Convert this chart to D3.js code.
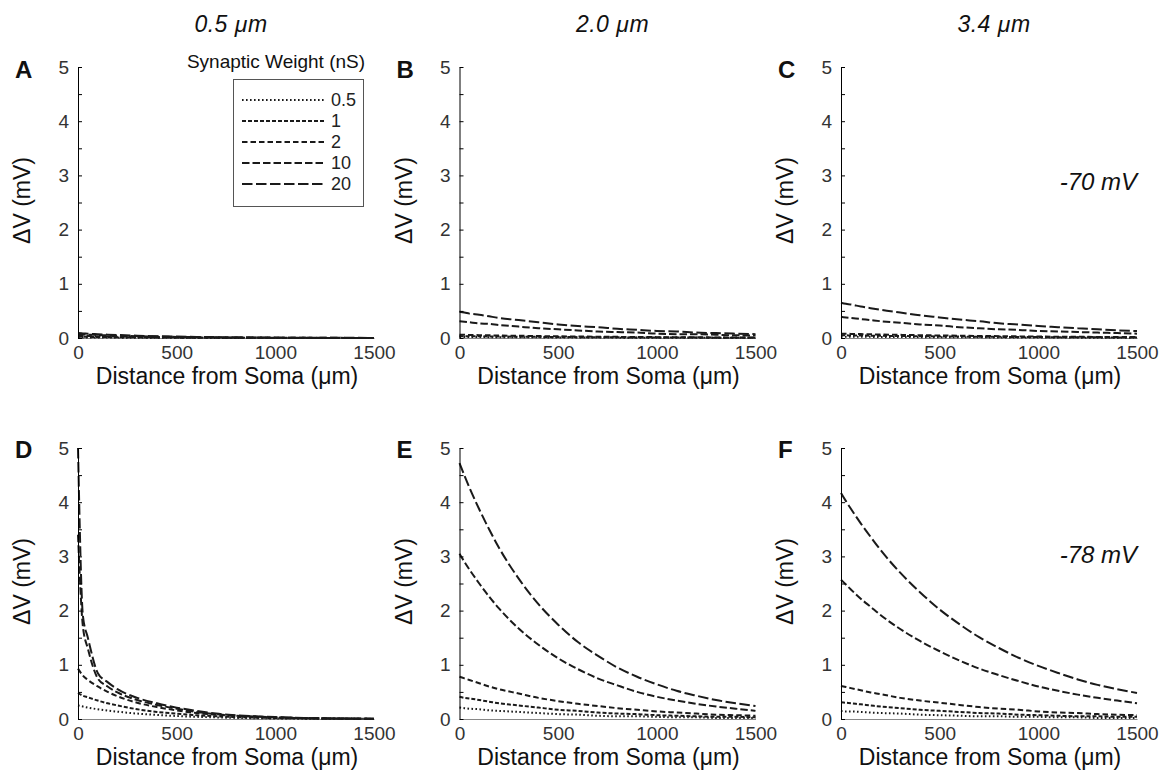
<!DOCTYPE html>
<html>
<head>
<meta charset="utf-8">
<script src="https://cdn.jsdelivr.net/npm/d3@7"></script>
<style>
  body { margin: 0; background: #fff; }
  svg { display: block; font-family: "Liberation Sans", Arial, sans-serif; }
</style>
</head>
<body>
<svg id="chart" width="1162" height="773"></svg>
<script>
// distance from soma (um) at which each trace is sampled
var distances = [0, 25, 50, 100, 150, 200, 300, 400, 500, 600, 700, 800, 900, 1000, 1100, 1200, 1300, 1400, 1500];
var weights = ["0.5", "1", "2", "10", "20"];
var yTicks = [0, 1, 2, 3, 4, 5];
var xTicks = [0, 500, 1000, 1500];
var diameters = ["0.5 \u03bcm", "2.0 \u03bcm", "3.4 \u03bcm"];
var holding = ["-70 mV", "-78 mV"];
var letters = ["A", "B", "C", "D", "E", "F"];

// each panel: one row per weight (0.5, 1, 2, 10, 20 nS), dV in mV
var panelA = [
  [0.012, 0.011, 0.011, 0.009, 0.008, 0.007, 0.006, 0.004, 0.003, 0.003, 0.002, 0.002, 0.001, 0.001, 0.001, 0.001, 0, 0, 0],
  [0.025, 0.023, 0.022, 0.019, 0.017, 0.015, 0.012, 0.009, 0.007, 0.006, 0.004, 0.003, 0.003, 0.002, 0.002, 0.001, 0.001, 0.001, 0.001],
  [0.04, 0.038, 0.035, 0.031, 0.027, 0.024, 0.019, 0.015, 0.011, 0.009, 0.007, 0.005, 0.004, 0.003, 0.003, 0.002, 0.002, 0.001, 0.001],
  [0.07, 0.066, 0.062, 0.055, 0.048, 0.042, 0.033, 0.026, 0.02, 0.016, 0.012, 0.009, 0.007, 0.006, 0.004, 0.004, 0.003, 0.002, 0.002],
  [0.09, 0.085, 0.079, 0.07, 0.062, 0.055, 0.042, 0.033, 0.026, 0.02, 0.016, 0.012, 0.009, 0.007, 0.006, 0.005, 0.004, 0.003, 0.002]
];
var panelB = [
  [0.02, 0.019, 0.019, 0.018, 0.016, 0.015, 0.014, 0.012, 0.01, 0.009, 0.008, 0.007, 0.006, 0.005, 0.005, 0.004, 0.004, 0.003, 0.003],
  [0.035, 0.034, 0.033, 0.031, 0.029, 0.027, 0.024, 0.021, 0.018, 0.016, 0.014, 0.012, 0.011, 0.01, 0.008, 0.007, 0.006, 0.006, 0.005],
  [0.06, 0.058, 0.056, 0.053, 0.05, 0.046, 0.041, 0.036, 0.031, 0.028, 0.024, 0.021, 0.019, 0.016, 0.014, 0.013, 0.011, 0.01, 0.009],
  [0.31, 0.30, 0.29, 0.27, 0.26, 0.24, 0.21, 0.18, 0.16, 0.14, 0.12, 0.11, 0.10, 0.08, 0.07, 0.07, 0.06, 0.05, 0.045],
  [0.485, 0.47, 0.45, 0.43, 0.40, 0.37, 0.33, 0.29, 0.25, 0.22, 0.20, 0.17, 0.15, 0.13, 0.12, 0.10, 0.09, 0.08, 0.07]
];
var panelC = [
  [0.025, 0.024, 0.024, 0.022, 0.021, 0.02, 0.018, 0.016, 0.015, 0.013, 0.012, 0.011, 0.01, 0.009, 0.008, 0.007, 0.006, 0.006, 0.005],
  [0.05, 0.049, 0.047, 0.045, 0.043, 0.04, 0.036, 0.033, 0.029, 0.026, 0.024, 0.021, 0.019, 0.017, 0.015, 0.014, 0.012, 0.011, 0.01],
  [0.08, 0.078, 0.076, 0.072, 0.068, 0.064, 0.058, 0.052, 0.047, 0.042, 0.038, 0.034, 0.03, 0.027, 0.024, 0.022, 0.02, 0.018, 0.016],
  [0.39, 0.38, 0.37, 0.35, 0.33, 0.31, 0.28, 0.25, 0.23, 0.20, 0.18, 0.16, 0.15, 0.13, 0.12, 0.11, 0.10, 0.09, 0.08],
  [0.65, 0.63, 0.62, 0.58, 0.55, 0.52, 0.47, 0.42, 0.38, 0.34, 0.31, 0.27, 0.25, 0.22, 0.20, 0.18, 0.16, 0.14, 0.13]
];
var panelD = [
  [0.25, 0.23, 0.21, 0.18, 0.155, 0.135, 0.1, 0.075, 0.055, 0.04, 0.03, 0.02, 0.015, 0.01, 0.007, 0.005, 0.004, 0.003, 0.002],
  [0.48, 0.43, 0.4, 0.34, 0.29, 0.25, 0.18, 0.13, 0.1, 0.07, 0.05, 0.035, 0.025, 0.018, 0.013, 0.01, 0.007, 0.005, 0.003],
  [0.93, 0.8, 0.72, 0.6, 0.5, 0.42, 0.3, 0.22, 0.16, 0.11, 0.08, 0.06, 0.04, 0.03, 0.02, 0.015, 0.01, 0.007, 0.005],
  [3.4, 1.7, 1.3, 0.75, 0.6, 0.49, 0.35, 0.26, 0.19, 0.13, 0.09, 0.06, 0.045, 0.03, 0.02, 0.013, 0.009, 0.006, 0.004],
  [5.0, 1.9, 1.5, 0.85, 0.68, 0.55, 0.39, 0.29, 0.21, 0.15, 0.10, 0.07, 0.05, 0.035, 0.025, 0.015, 0.01, 0.007, 0.005]
];
var panelE = [
  [0.21, 0.20, 0.19, 0.18, 0.16, 0.15, 0.13, 0.11, 0.09, 0.08, 0.06, 0.05, 0.05, 0.04, 0.03, 0.03, 0.02, 0.02, 0.02],
  [0.41, 0.39, 0.38, 0.35, 0.32, 0.29, 0.25, 0.21, 0.17, 0.15, 0.12, 0.10, 0.09, 0.07, 0.06, 0.05, 0.04, 0.04, 0.03],
  [0.78, 0.75, 0.72, 0.66, 0.60, 0.55, 0.47, 0.39, 0.33, 0.28, 0.24, 0.20, 0.17, 0.14, 0.12, 0.10, 0.08, 0.07, 0.06],
  [3.05, 2.90, 2.76, 2.50, 2.26, 2.04, 1.67, 1.37, 1.12, 0.92, 0.75, 0.62, 0.50, 0.41, 0.34, 0.28, 0.23, 0.19, 0.15],
  [4.72, 4.49, 4.27, 3.87, 3.50, 3.16, 2.59, 2.12, 1.74, 1.42, 1.17, 0.95, 0.78, 0.64, 0.52, 0.43, 0.35, 0.29, 0.24]
];
var panelF = [
  [0.15, 0.14, 0.14, 0.13, 0.12, 0.11, 0.10, 0.08, 0.07, 0.06, 0.05, 0.05, 0.04, 0.04, 0.03, 0.03, 0.02, 0.02, 0.02],
  [0.31, 0.30, 0.29, 0.27, 0.25, 0.23, 0.20, 0.17, 0.15, 0.13, 0.11, 0.10, 0.08, 0.07, 0.06, 0.05, 0.05, 0.04, 0.04],
  [0.61, 0.59, 0.57, 0.53, 0.49, 0.46, 0.39, 0.34, 0.30, 0.26, 0.22, 0.19, 0.17, 0.14, 0.12, 0.11, 0.09, 0.08, 0.07],
  [2.57, 2.48, 2.39, 2.22, 2.07, 1.92, 1.66, 1.44, 1.25, 1.08, 0.93, 0.81, 0.70, 0.60, 0.52, 0.45, 0.39, 0.34, 0.29],
  [4.17, 4.02, 3.88, 3.61, 3.36, 3.12, 2.70, 2.34, 2.02, 1.75, 1.51, 1.31, 1.13, 0.98, 0.85, 0.73, 0.63, 0.55, 0.48]
];
var panels = [panelA, panelB, panelC, panelD, panelE, panelF];

// dash patterns per weight (0.5 .. 20 nS)
var dashes = ["1.6,2.4", "4,2", "5.5,3", "7.5,3", "10.5,3.5"];

var colX = [78, 459.5, 841];
var rowY = [67, 448];
var pw = 296, ph = 271;

var svg = d3.select("#chart");
svg.append("rect").attr("width", 1162).attr("height", 773).attr("fill", "#fff");

var x = d3.scaleLinear().domain([0, 1500]).range([0, pw]);
var y = d3.scaleLinear().domain([0, 5]).range([ph, 0]);

var line = d3.line()
  .x(function(d) { return x(d[0]); })
  .y(function(d) { return y(d[1]); })
  .curve(d3.curveMonotoneX);

panels.forEach(function(series, p) {
  var col = p % 3, row = Math.floor(p / 3);
  var g = svg.append("g").attr("transform", "translate(" + colX[col] + "," + rowY[row] + ")");

  // x axis (line only, labels below)
  var xa = g.append("g")
    .attr("transform", "translate(0," + ph + ")")
    .call(d3.axisBottom(x).tickValues(xTicks).tickSize(0).tickPadding(8).tickFormat(d3.format("d")));
  xa.select(".domain").attr("stroke", "#888");
  xa.selectAll("text").attr("font-size", 19).attr("fill", "#333");

  // traces
  series.forEach(function(vals, w) {
    g.append("path")
      .datum(distances.map(function(d, i) { return [d, vals[i]]; }))
      .attr("d", line)
      .attr("fill", "none")
      .attr("stroke", "#1a1a1a")
      .attr("stroke-width", 2)
      .attr("stroke-dasharray", dashes[w]);
  });

  // y axis, ticks pointing inward, minor ticks every 0.5
  var ya = g.append("g")
    .call(d3.axisLeft(y).tickValues(d3.range(0, 5.01, 0.5)).tickSizeInner(-4).tickSizeOuter(0).tickPadding(9)
      .tickFormat(function(d) { return d % 1 === 0 ? d : ""; }));
  ya.select(".domain").attr("stroke", "#000");
  ya.selectAll("line").attr("stroke", "#000");
  ya.selectAll("text").attr("font-size", 19).attr("fill", "#333");

  // axis titles
  g.append("text")
    .attr("x", pw / 2 + 1).attr("y", ph + 46)
    .attr("text-anchor", "middle").attr("font-size", 23).attr("fill", "#111")
    .text("Distance from Soma (\u03bcm)");
  g.append("text")
    .attr("transform", "translate(-48," + (ph / 2 - 2) + ") rotate(-90)")
    .attr("text-anchor", "middle").attr("font-size", 23).attr("fill", "#111")
    .text("\u0394V (mV)");

  // panel letter
  g.append("text")
    .attr("x", -63).attr("y", row === 0 ? 11 : 10)
    .attr("font-size", 24).attr("font-weight", "bold").attr("fill", "#111")
    .text(letters[p]);
});

// column titles
diameters.forEach(function(t, i) {
  svg.append("text")
    .attr("x", colX[i] + pw / 2 + 5).attr("y", 32)
    .attr("text-anchor", "middle").attr("font-size", 23).attr("font-style", "italic").attr("fill", "#111")
    .attr("letter-spacing", 0.5)
    .text(t);
});

// holding potential labels
svg.append("text").attr("x", 1137).attr("y", 190)
  .attr("text-anchor", "end").attr("font-size", 24).attr("font-style", "italic").attr("fill", "#111")
  .text(holding[0]);
svg.append("text").attr("x", 1137).attr("y", 563)
  .attr("text-anchor", "end").attr("font-size", 24).attr("font-style", "italic").attr("fill", "#111")
  .text(holding[1]);

// legend
var lg = svg.append("g");
lg.append("text").attr("x", 276).attr("y", 68)
  .attr("text-anchor", "middle").attr("font-size", 19).attr("fill", "#111")
  .text("Synaptic Weight (nS)");
lg.append("rect").attr("x", 233.5).attr("y", 79.5).attr("width", 130).attr("height", 127)
  .attr("fill", "#fff").attr("stroke", "#555");
var ly = d3.scalePoint().domain(weights).range([100, 184]);
weights.forEach(function(w, i) {
  lg.append("line")
    .attr("x1", 242).attr("x2", 326).attr("y1", ly(w)).attr("y2", ly(w))
    .attr("stroke", "#1a1a1a").attr("stroke-width", 2).attr("stroke-dasharray", dashes[i]);
  lg.append("text").attr("x", 331).attr("y", ly(w)).attr("dy", "0.36em")
    .attr("font-size", 18).attr("fill", "#222").text(w);
});
</script>
</body>
</html>
